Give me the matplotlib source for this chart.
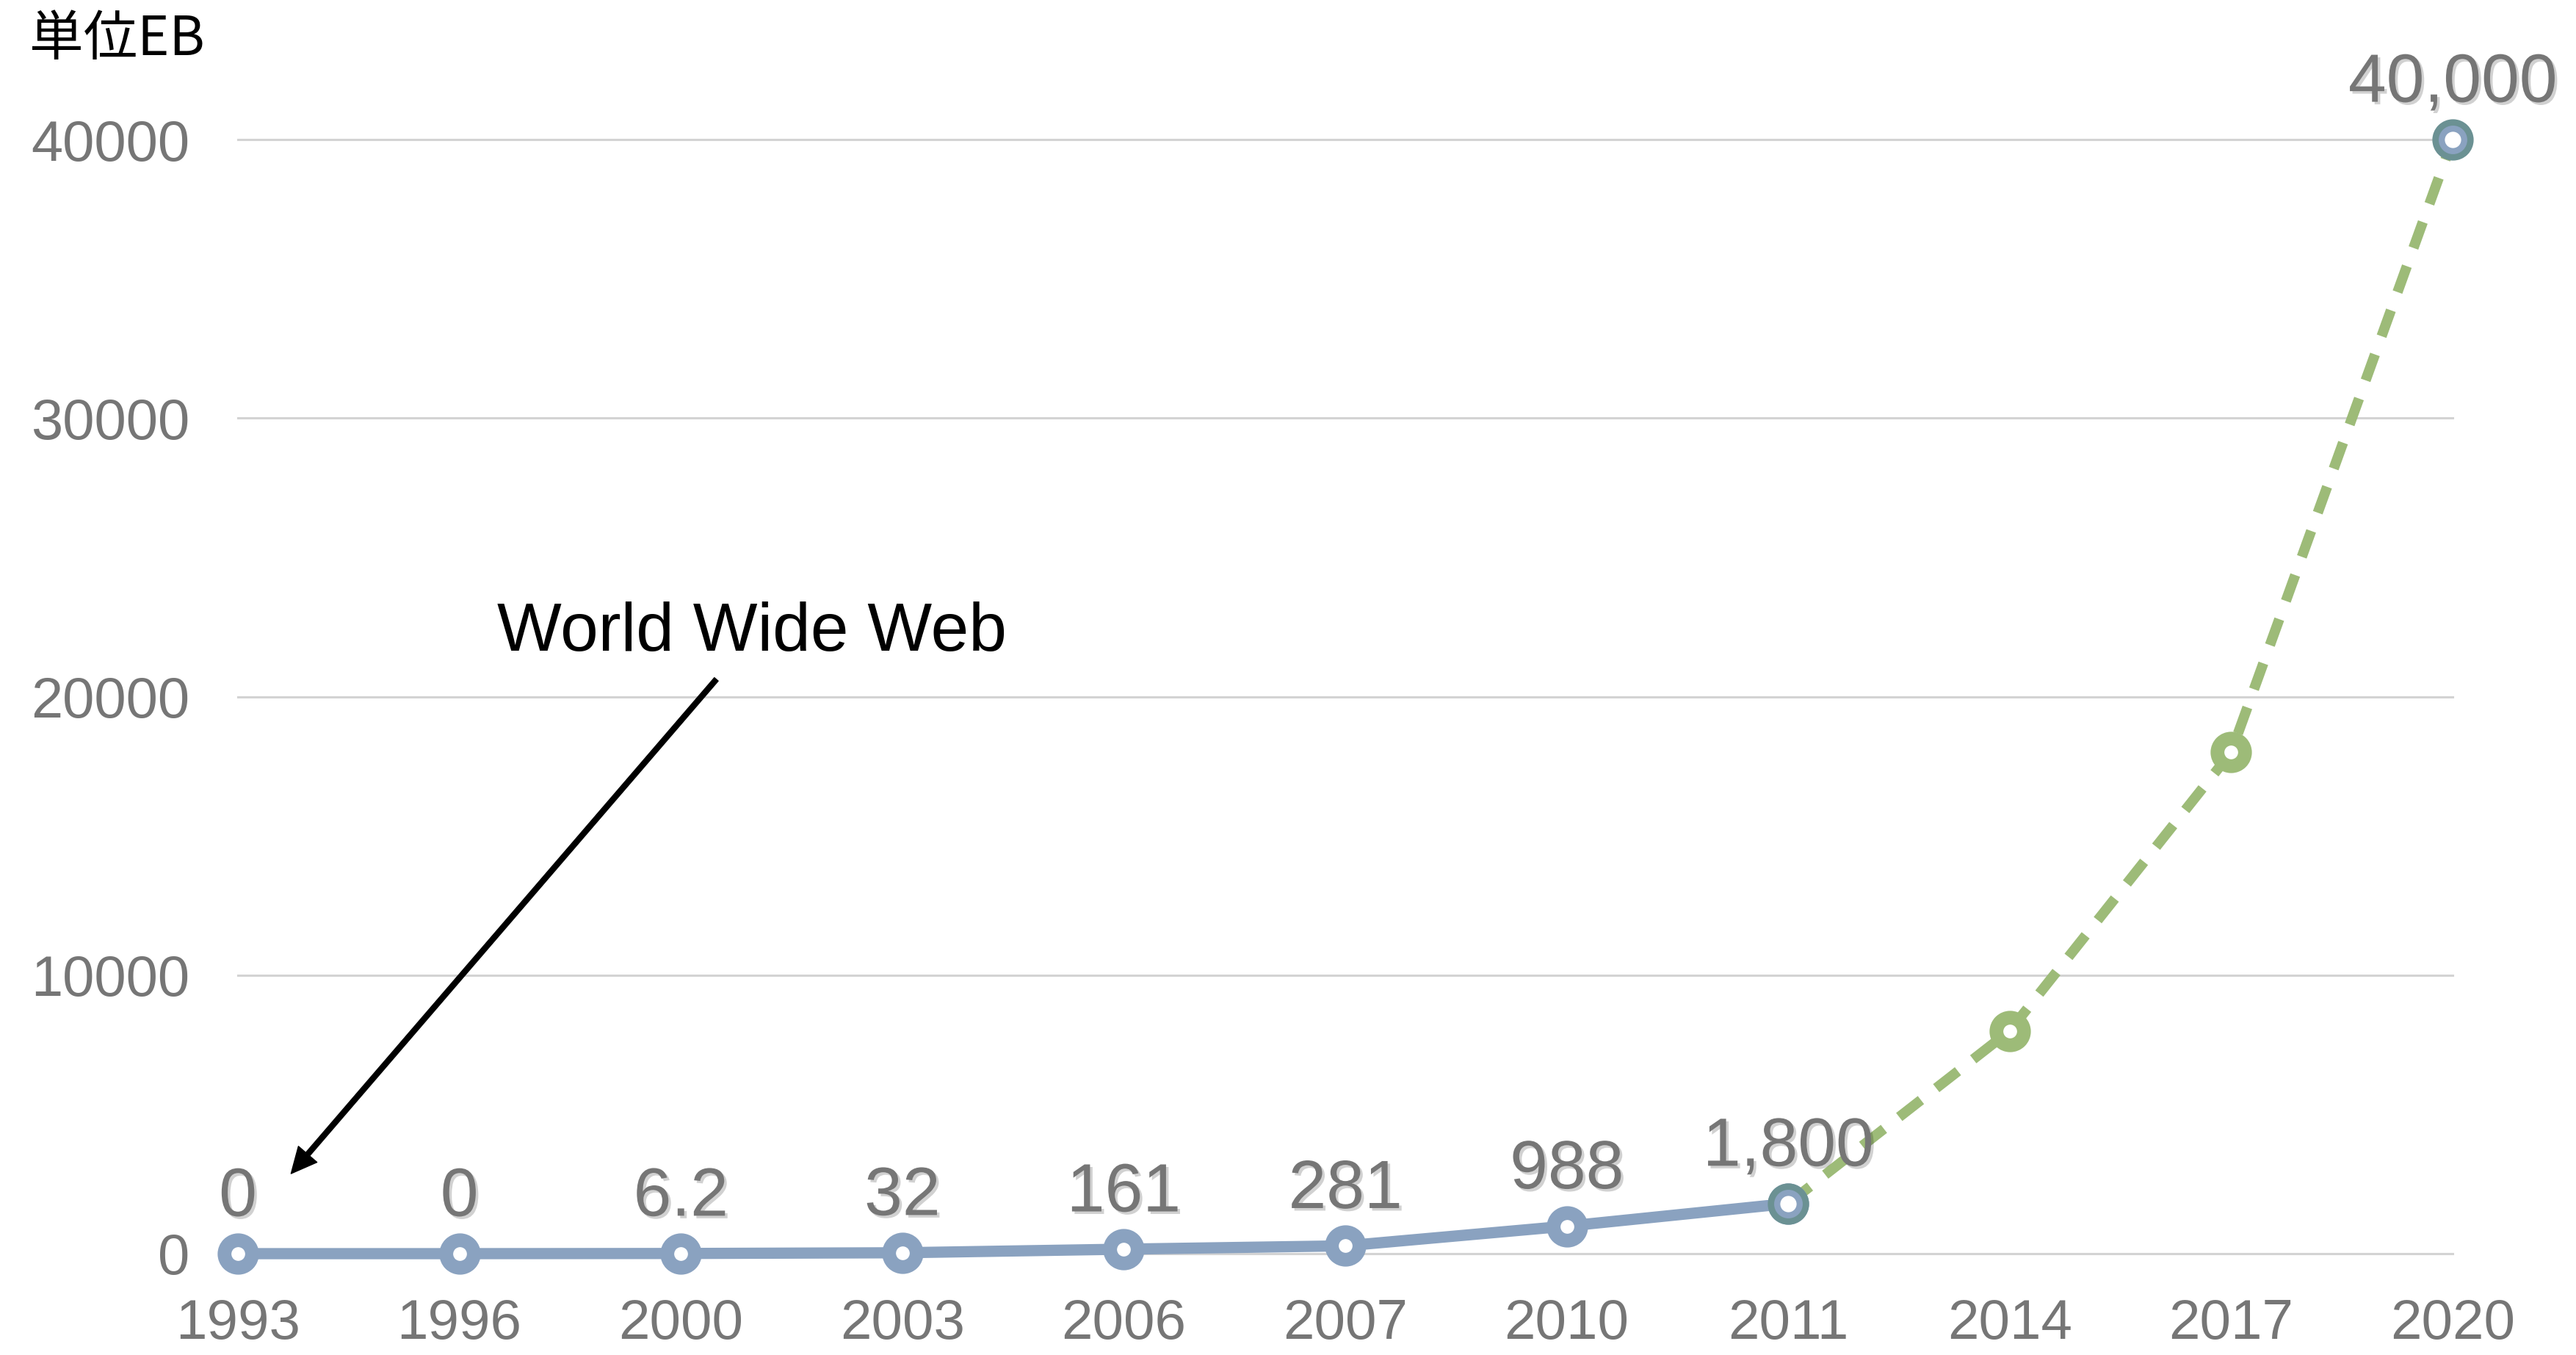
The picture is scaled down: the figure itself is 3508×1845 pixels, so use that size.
import matplotlib
matplotlib.use("Agg")
import matplotlib.pyplot as plt
import matplotlib.patheffects as pe

# ---- data ----
years = ['1993', '1996', '2000', '2003', '2006', '2007', '2010', '2011', '2014', '2017', '2020']
values = [0, 0, 6.2, 32, 161, 281, 988, 1800, 8000, 18000, 40000]
n_actual = 8                      # first 8 points are measured (solid blue)
labeled = [0, 1, 2, 3, 4, 5, 6, 7, 10]
yticks = [0, 10000, 20000, 30000, 40000]
unit_label = '単位EB'
note_text = 'World Wide Web'
note_text_xy = (1.17, 21650)
note_arrow_tail = (2.16, 20620)
note_arrow_tip = (0.24, 2874)

BLUE = '#8aa2c0'
GREEN = '#9dbb78'
TEAL = '#6b9193'
GRAY = '#767676'
FONT = ['Liberation Sans', 'DejaVu Sans']

plt.rcParams['font.family'] = FONT

W, H = 3508, 1845
fig = plt.figure(figsize=(W / 100, H / 100), dpi=100)
left, right = 324 / W, 3340 / W
bottom, top = 1 - 1707 / H, 1 - 190 / H
ax = fig.add_axes([left, bottom, right - left, top - bottom])

x = list(range(len(years)))
ax.set_xlim(0, len(years) - 1)
ax.set_ylim(0, 40000)

MS, MEW = 27, 13.5

# grid
for t in yticks:
    ax.axhline(t, color='#d3d3d3', lw=2.2, zorder=0, clip_on=False)

# forecast dashed green
ax.plot(x[n_actual - 1:], values[n_actual - 1:], color=GREEN, lw=10,
        ls=(0, (2.7, 1.9)), zorder=2, clip_on=False, solid_capstyle='butt')
ax.plot(x[n_actual:-1], values[n_actual:-1], ls='none', marker='o', ms=MS,
        mew=MEW, mec=GREEN, mfc='white', zorder=3, clip_on=False)

# actual solid blue
ax.plot(x[:n_actual], values[:n_actual], color=BLUE, lw=11, zorder=4,
        marker='o', ms=MS, mew=MEW, mec=BLUE, mfc='white', clip_on=False)

# overlapping markers (2011 and 2020)
for i in [n_actual - 1, len(years) - 1]:
    ax.plot([x[i]], [values[i]], ls='none', marker='o', ms=MS, mew=MEW,
            mec=TEAL, mfc='white', zorder=5, clip_on=False)
    ax.plot([x[i]], [values[i]], ls='none', marker='o', ms=22, mew=6,
            mec=BLUE, mfc='white', zorder=6, clip_on=False)

# data labels
shadow = [pe.withSimplePatchShadow(offset=(2.5, -2.5), shadow_rgbFace='black', alpha=0.18)]
for i in labeled:
    ax.annotate(f"{values[i]:,g}", (x[i], values[i]), xytext=(0, 37),
                textcoords='offset points', ha='center', va='baseline',
                fontsize=67, color=GRAY, zorder=7, path_effects=shadow,
                annotation_clip=False)

# annotation
ax.annotate('', xy=note_arrow_tip, xytext=note_arrow_tail,
            arrowprops=dict(facecolor='black', edgecolor='black', width=5,
                            headwidth=24, headlength=25, shrink=0),
            annotation_clip=False)
ax.text(note_text_xy[0], note_text_xy[1], note_text, fontsize=67,
        color='black', ha='left', va='baseline')

# axes styling
ax.set_xticks(x)
ax.set_xticklabels(years)
ax.set_yticks(yticks)
ax.set_yticklabels([str(t) for t in yticks])
ax.tick_params(axis='x', length=0, pad=44, labelsize=55, labelcolor=GRAY)
ax.tick_params(axis='y', length=0, pad=47, labelsize=56, labelcolor=GRAY)
for s in ax.spines.values():
    s.set_visible(False)
ax.patch.set_alpha(0)

fig.text(40 / W, 1 - 75 / H, unit_label, fontsize=53, color='black',
         family=['Noto Sans CJK JP', 'DejaVu Sans'], ha='left', va='baseline')

fig.savefig('out.png', dpi=100, facecolor='white')
